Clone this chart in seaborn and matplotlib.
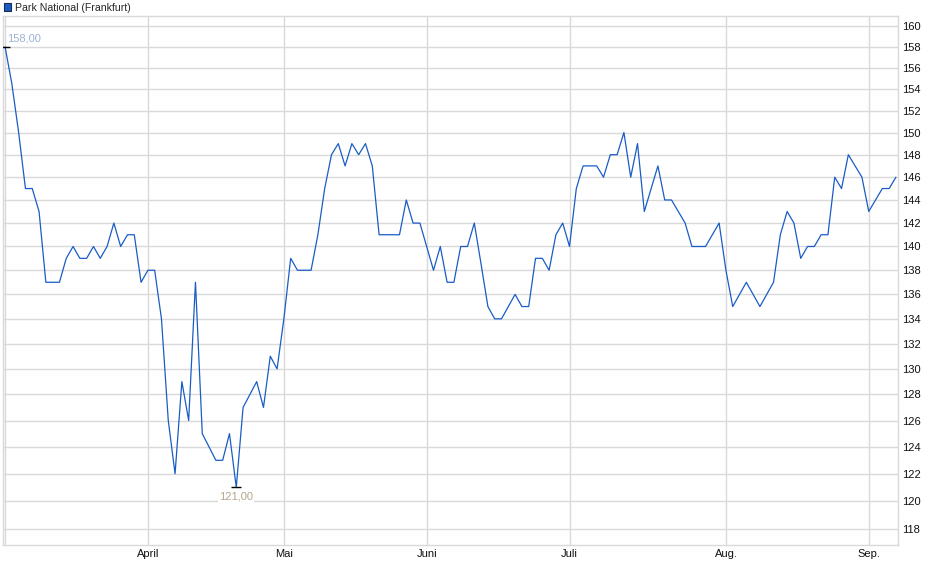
import pandas as pd
import seaborn as sns
import matplotlib.pyplot as plt
from matplotlib.patches import Patch
from matplotlib.ticker import FixedLocator, FixedFormatter, NullLocator

# Kursdaten (Handelstage, März bis Anfang September)
prices = [158, 154.5, 150, 145, 145, 143, 137, 137, 137, 139,
          140, 139, 139, 140, 139, 140, 142, 140, 141, 141,
          137, 138, 138, 134, 126, 122, 129, 126, 137, 125,
          124, 123, 123, 125, 121, 127, 128, 129, 127, 131,
          130, 134, 139, 138, 138, 138, 141, 145, 148, 149,
          147, 149, 148, 149, 147, 141, 141, 141, 141, 144,
          142, 142, 140, 138, 140, 137, 137, 140, 140, 142,
          138.5, 135, 134, 134, 135, 136, 135, 135, 139, 139,
          138, 141, 142, 140, 145, 147, 147, 147, 146, 148,
          148, 150, 146, 149, 143, 145, 147, 144, 144, 143,
          142, 140, 140, 140, 141, 142, 138, 135, 136, 137,
          136, 135, 136, 137, 141, 143, 142, 139, 140, 140,
          141, 141, 146, 145, 148, 147, 146, 143, 144, 145,
          145, 146]

# erster Handelstag je Monat (Index)
month_idx = [0, 21, 41, 62, 83, 106, 127]
month_labels = ['', 'April', 'Mai', 'Juni', 'Juli', 'Aug.', 'Sep.']

y_ticks = list(range(118, 161, 2))

df = pd.DataFrame({'tag': range(len(prices)), 'kurs': prices})

sns.set_theme(style='white')
plt.rcParams['font.family'] = ['Liberation Sans', 'DejaVu Sans']

fig = plt.figure(figsize=(9.4, 5.79), dpi=100)
ax = fig.add_axes([0.0032, 0.0587, 0.9521, 0.9137])

grid_col = '#d9d9d9'
sns.lineplot(data=df, x='tag', y='kurs', ax=ax, color='#1a5cc6', linewidth=0.9, zorder=3)

ax.set_yscale('log')
ax.set_ylim(116.85, 160.97)
ax.set_xlim(-0.3, 131.3)

ax.yaxis.set_major_locator(FixedLocator(y_ticks))
ax.yaxis.set_major_formatter(FixedFormatter([str(t) for t in y_ticks]))
ax.yaxis.set_minor_locator(NullLocator())
ax.yaxis.tick_right()
ax.set_xticks(month_idx)
ax.set_xticklabels(month_labels)
ax.tick_params(axis='both', length=0, labelsize=8, colors='#111111', pad=3)
ax.tick_params(axis='x', pad=3)
ax.set_xlabel('')
ax.set_ylabel('')

ax.grid(True, color=grid_col, linewidth=1.0, zorder=0)
for s in ax.spines.values():
    s.set_color(grid_col)
    s.set_linewidth(1.0)

# Hoch / Tief markieren
i_max = df['kurs'].idxmax()
i_min = df['kurs'].idxmin()
ax.plot(df['tag'][i_max], df['kurs'][i_max], marker='_', color='black', markersize=7, mew=1.0, zorder=4)
ax.plot(df['tag'][i_min], df['kurs'][i_min], marker='_', color='black', markersize=7, mew=1.0, zorder=4)
ax.annotate(f"{df['kurs'][i_max]:.2f}".replace('.', ','), (df['tag'][i_max], df['kurs'][i_max]),
            xytext=(1.5, 2.5), textcoords='offset points', ha='left', va='bottom',
            fontsize=8, color='#9db2cf')
ax.annotate(f"{df['kurs'][i_min]:.2f}".replace('.', ','), (df['tag'][i_min], df['kurs'][i_min]),
            xytext=(0, -3), textcoords='offset points', ha='center', va='top',
            fontsize=8, color='#b4a48c',
            bbox=dict(boxstyle='square,pad=0.1', fc='white', ec='none'))

# Legende oben links
handle = Patch(facecolor='#1a5cc6', edgecolor='#1a2a50', linewidth=0.8, label='Park National (Frankfurt)')
fig.legend(handles=[handle], loc='upper left', bbox_to_anchor=(-0.003, 1.006), frameon=False,
           fontsize=7.6, handlelength=0.75, handleheight=0.75, handletextpad=0.35, borderaxespad=0.2)

fig.savefig('out.png', dpi=100)
